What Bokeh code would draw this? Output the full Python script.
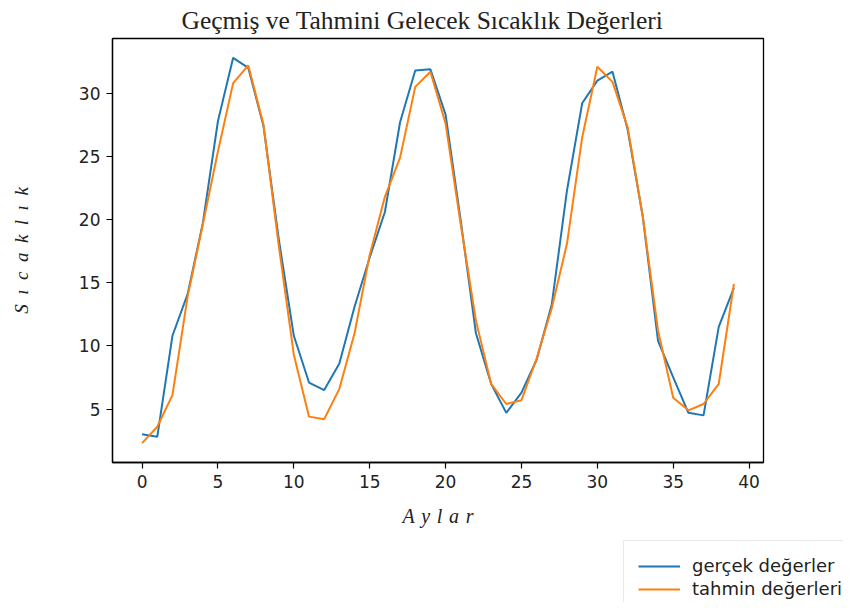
from bokeh.plotting import figure
from bokeh.models import Range1d, FixedTicker, Legend, LegendItem
from bokeh.layouts import column
from bokeh.embed import file_html
from bokeh.resources import INLINE

months = list(range(40))
actual = [3.0, 2.8, 10.8, 14.1, 19.7, 27.8, 32.8, 32.0, 27.4, 18.5,
          10.8, 7.1, 6.5, 8.6, 13.1, 17.0, 20.6, 27.7, 31.8, 31.9,
          28.3, 19.9, 11.0, 7.0, 4.7, 6.3, 8.9, 13.3, 22.3, 29.2,
          31.0, 31.7, 27.1, 20.2, 10.4, 7.5, 4.7, 4.5, 11.5, 14.6]
predicted = [2.3, 3.6, 6.1, 13.9, 19.6, 25.4, 30.8, 32.2, 27.5, 18.0,
             9.3, 4.4, 4.2, 6.6, 11.0, 17.2, 21.8, 24.9, 30.5, 31.7,
             27.6, 19.6, 12.0, 7.0, 5.4, 5.7, 9.0, 13.0, 18.1, 26.5,
             32.1, 30.9, 27.3, 20.2, 11.2, 5.9, 4.9, 5.4, 7.0, 14.9]
x_ticks = [0, 5, 10, 15, 20, 25, 30, 35, 40]
y_ticks = [5, 10, 15, 20, 25, 30]
title_text = "Geçmiş ve Tahmini Gelecek Sıcaklık Değerleri"
x_label = "A\u2004y\u2004l\u2004a\u2004r"
y_label = "S\u2002ı\u2002c\u2002a\u2002k\u2002l\u2002ı\u2002k"
series_names = ["gerçek değerler", "tahmin değerleri"]
colors = ["#1f77b4", "#ff7f0e"]

p = figure(width=765, height=532, output_backend="svg", toolbar_location=None,
           x_range=Range1d(-1.95, 40.95), y_range=Range1d(0.77, 34.33),
           min_border_left=112, min_border_right=2, min_border_top=38,
           min_border_bottom=70)
p.title.text = title_text
p.title.text_font = "Liberation Serif"
p.title.text_font_size = "25.5px"
p.title.text_font_style = "normal"
p.title.text_line_height = 1.0
p.title.align = "left"
p.title.offset = 69
p.title.standoff = 7
p.title.text_color = "#222222"

p.grid.visible = False
p.outline_line_color = "black"
p.outline_line_width = 1.3
p.background_fill_color = "white"
p.border_fill_color = "white"

for ax in (p.xaxis[0], p.yaxis[0]):
    ax.major_tick_out = 6
    ax.major_tick_in = 0
    ax.minor_tick_out = 0
    ax.minor_tick_in = 0
    ax.axis_line_color = "black"
    ax.axis_line_width = 1.3
    ax.major_tick_line_width = 1.2
    ax.major_label_text_font = "DejaVu Sans"
    ax.major_label_text_font_size = "17px"
    ax.major_label_text_color = "#222222"
    ax.axis_label_text_font = "Liberation Serif"
    ax.axis_label_text_font_style = "italic"
    ax.axis_label_text_color = "#222222"

p.xaxis.axis_label_text_font_size = "20px"
p.yaxis.axis_label_text_font_size = "19px"
p.xaxis.ticker = FixedTicker(ticks=x_ticks)
p.yaxis.ticker = FixedTicker(ticks=y_ticks)
p.xaxis.major_label_standoff = 6
p.yaxis.major_label_standoff = 6
p.xaxis.axis_label = x_label
p.yaxis.axis_label = y_label
p.xaxis.axis_label_standoff = 14
p.yaxis.axis_label_standoff = 44

p.line(months, actual, line_color=colors[0], line_width=2)
p.line(months, predicted, line_color=colors[1], line_width=2)

# legend strip below the chart (its own lines fall outside its visible range)
p2 = figure(width=845, height=70, output_backend="svg", toolbar_location=None,
            x_range=Range1d(0, 1), y_range=Range1d(-1, 0),
            x_axis_location=None, y_axis_location=None,
            min_border=0, min_border_left=0, min_border_right=0,
            min_border_top=0, min_border_bottom=0)
p2.grid.visible = False
p2.outline_line_color = None
p2.border_fill_color = "white"
l1 = p2.line(months, actual, line_color=colors[0], line_width=2)
l2 = p2.line(months, predicted, line_color=colors[1], line_width=2)

legend = Legend(items=[LegendItem(label=series_names[0], renderers=[l1]),
                       LegendItem(label=series_names[1], renderers=[l2])],
                location=(511, -12))
legend.label_text_font = "DejaVu Sans"
legend.label_text_font_size = "18px"
legend.label_text_color = "#222222"
legend.glyph_width = 42
legend.glyph_height = 20
legend.label_height = 20
legend.label_standoff = 12
legend.spacing = 2
legend.padding = 14
legend.border_line_color = "#d5d5d5"
legend.background_fill_color = "white"
legend.background_fill_alpha = 1.0
p2.add_layout(legend, "center")

open("out.html", "w").write(file_html(column(p, p2), INLINE))
